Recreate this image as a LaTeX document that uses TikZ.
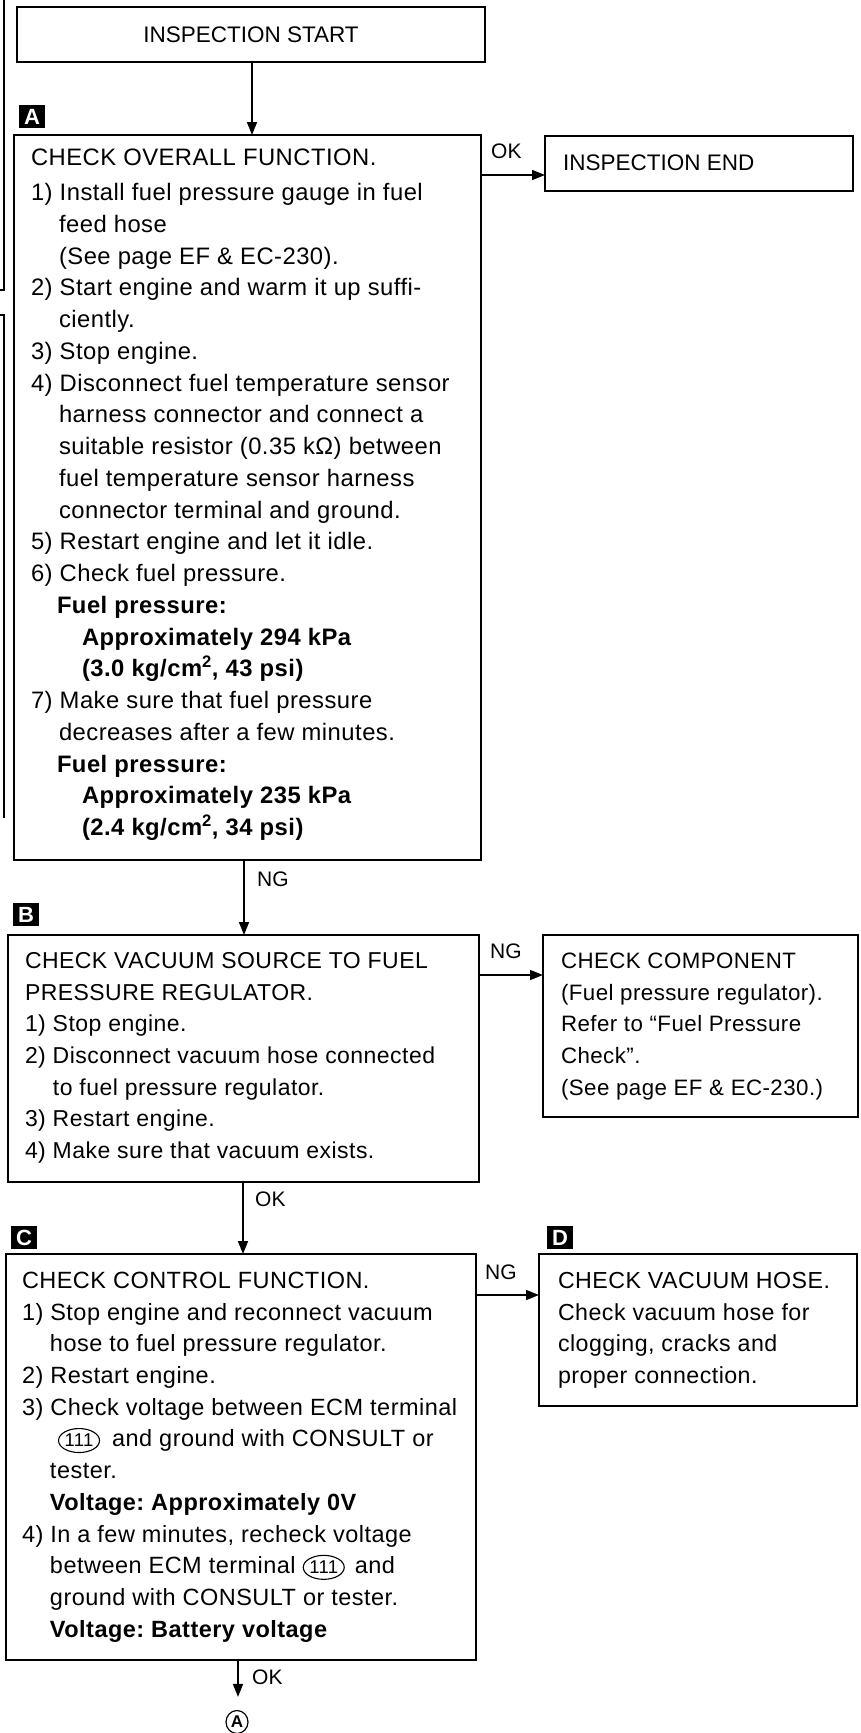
\documentclass[tikz,border=0pt]{standalone}
\usepackage{fontspec}
\setmainfont{Liberation Sans}
\usetikzlibrary{arrows.meta,shapes.geometric}

% ECM terminal number in an oval
\newcommand{\ecmterm}[1]{\tikz[baseline=(termnum.base)]\node[draw,ellipse,line width=1.1pt,inner sep=0pt,minimum width=41pt,minimum height=24pt,anchor=base,font=\fontsize{18.5}{18.5}\selectfont] (termnum) {#1};}
% body text setting for the step boxes
\newcommand{\bodyfont}[2]{\fontsize{#1}{#2}\selectfont\addfontfeature{LetterSpace=2}\frenchspacing}

\begin{document}
\begin{tikzpicture}[x=1pt,y=-1pt,
  box/.style={draw,line width=1.6pt,rectangle,inner sep=0pt,outer sep=0pt,anchor=north west},
  txt/.style={anchor=base west,inner sep=0pt,outer sep=0pt},
  tag/.style={fill=black,text=white,inner sep=0pt,outer sep=0pt,anchor=north west,
    minimum width=26pt,minimum height=23pt,font=\fontsize{22}{22}\selectfont\bfseries},
  arr/.style={line width=1.5pt,-{Triangle[length=13pt,width=10pt]}},
  lbl/.style={anchor=west,inner sep=0pt,font=\fontsize{21}{21}\selectfont}]

\useasboundingbox (0,0) rectangle (861,1733);

% edge of the neighbouring chart
\draw[line width=1.3pt] (4,0) -- (4,290) -- (0,290);
\draw[line width=1.3pt] (0,315) -- (4,315) -- (4,818);

% boxes
\node[box,minimum width=468pt,minimum height=55pt] (start) at (17,7) {};
\node[font=\fontsize{22.5}{22.5}\selectfont,inner sep=0pt] (starttext) at (start.center) {INSPECTION START};

\node[box,minimum width=467pt,minimum height=725pt] (boxA) at (14,135) {};
\node[box,minimum width=308pt,minimum height=55pt] (endbox) at (545,136) {};
\node[anchor=west,inner sep=0pt,font=\fontsize{22.5}{22.5}\selectfont] (endtext) at (563,163) {INSPECTION END};

\node[box,minimum width=471pt,minimum height=247pt] (boxB) at (8,935) {};
\node[box,minimum width=315pt,minimum height=182pt] (boxComp) at (543,935) {};
\node[box,minimum width=470pt,minimum height=406pt] (boxC) at (6,1254) {};
\node[box,minimum width=318pt,minimum height=152pt] (boxD) at (539,1254) {};

% step tags
\node[tag] (tagA) at (19,105) {A};
\node[tag] (tagB) at (13,903) {B};
\node[tag] (tagC) at (11,1226) {C};
\node[tag] (tagD) at (547,1226) {D};

% box texts
\node[txt] (textA) at (31,165.4) {\parbox[t]{455pt}{\bodyfont{23.8}{31.75}%
CHECK OVERALL FUNCTION.\\[3.5pt]
1) Install fuel pressure gauge in fuel\\
\hspace*{28pt}feed hose\\
\hspace*{28pt}(See page EF \& EC-230).\\
2) Start engine and warm it up suffi-\\
\hspace*{28pt}ciently.\\
3) Stop engine.\\
4) Disconnect fuel temperature sensor\\
\hspace*{28pt}harness connector and connect a\\
\hspace*{28pt}suitable resistor (0.35 kΩ) between\\
\hspace*{28pt}fuel temperature sensor harness\\
\hspace*{28pt}connector terminal and ground.\\
5) Restart engine and let it idle.\\
6) Check fuel pressure.\\
\hspace*{26pt}{\bfseries Fuel pressure:}\\
\hspace*{51pt}{\bfseries Approximately 294 kPa}\\
\hspace*{51pt}{\bfseries (3.0 kg/cm\textsuperscript{2}, 43 psi)}\\
7) Make sure that fuel pressure\\
\hspace*{28pt}decreases after a few minutes.\\
\hspace*{26pt}{\bfseries Fuel pressure:}\\
\hspace*{51pt}{\bfseries Approximately 235 kPa}\\
\hspace*{51pt}{\bfseries (2.4 kg/cm\textsuperscript{2}, 34 psi)}}};

\node[txt] (textB) at (25,968.4) {\parbox[t]{455pt}{\bodyfont{23}{31.7}%
CHECK VACUUM SOURCE TO FUEL\\
PRESSURE REGULATOR.\\
1) Stop engine.\\
2) Disconnect vacuum hose connected\\
\hspace*{28pt}to fuel pressure regulator.\\
3) Restart engine.\\
4) Make sure that vacuum exists.}};

\node[txt] (textComp) at (561,968.4) {\parbox[t]{300pt}{\bodyfont{22.3}{31.7}%
CHECK COMPONENT\\
(Fuel pressure regulator).\\
Refer to ``Fuel Pressure\\
Check''.\\
(See page EF \& EC-230.)}};

\node[txt] (textC) at (22,1288.4) {\parbox[t]{455pt}{\bodyfont{23.5}{31.7}%
CHECK CONTROL FUNCTION.\\
1) Stop engine and reconnect vacuum\\
\hspace*{28pt}hose to fuel pressure regulator.\\
2) Restart engine.\\
3) Check voltage between ECM terminal\\
\hspace*{36pt}\ecmterm{111}\hspace{12pt}and ground with CONSULT or\\
\hspace*{28pt}tester.\\
\hspace*{28pt}{\bfseries Voltage: Approximately 0V}\\
4) In a few minutes, recheck voltage\\
\hspace*{28pt}between ECM terminal \ecmterm{111}\hspace{10pt}and\\
\hspace*{28pt}ground with CONSULT or tester.\\
\hspace*{28pt}{\bfseries Voltage: Battery voltage}}};

\node[txt] (textD) at (558,1288.4) {\parbox[t]{300pt}{\bodyfont{23.2}{31.7}%
CHECK VACUUM HOSE.\\
Check vacuum hose for\\
clogging, cracks and\\
proper connection.}};

% continuation mark
\node[draw,ellipse,line width=1.2pt,minimum width=22pt,minimum height=23pt,inner sep=0pt,
  font=\fontsize{17}{17}\selectfont\bfseries] (contA) at (237,1722) {A};

% connectors
\coordinate (x1) at (252,0);
\draw[arr] (x1 |- start.south) -- (x1 |- boxA.north);
\coordinate (y1) at (0,175);
\draw[arr] (boxA.east |- y1) -- (endbox.west |- y1);
\node[lbl] (okA) at (491,151) {OK};

\coordinate (x2) at (244,0);
\draw[arr] (x2 |- boxA.south) -- (x2 |- boxB.north);
\node[lbl] (ngA) at (257,879) {NG};

\coordinate (y2) at (0,975);
\draw[arr] (boxB.east |- y2) -- (boxComp.west |- y2);
\node[lbl] (ngB) at (490,951) {NG};

\coordinate (x3) at (243,0);
\draw[arr] (x3 |- boxB.south) -- (x3 |- boxC.north);
\node[lbl] (okB) at (255,1199) {OK};

\coordinate (y3) at (0,1295);
\draw[arr] (boxC.east |- y3) -- (boxD.west |- y3);
\node[lbl] (ngC) at (485,1272) {NG};

\coordinate (x4) at (238,0);
\draw[arr,shorten >=13pt] (x4 |- boxC.south) -- (x4 |- contA.north);
\node[lbl] (okC) at (252,1677) {OK};

\end{tikzpicture}
\end{document}
